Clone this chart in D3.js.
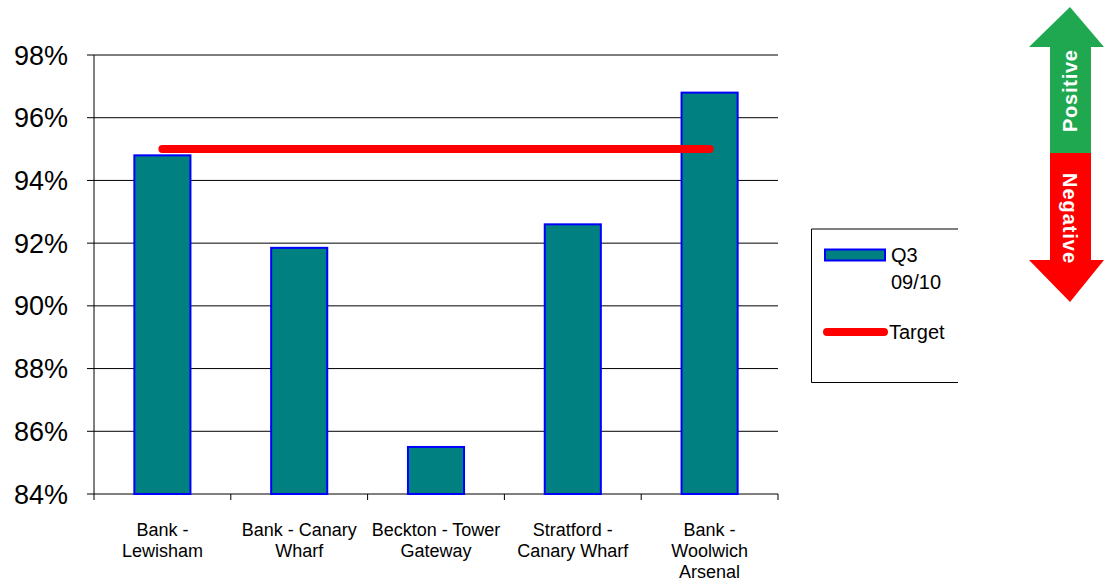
<!DOCTYPE html>
<html>
<head>
<meta charset="utf-8">
<script src="https://cdn.jsdelivr.net/npm/d3@7"></script>
<style>
  html, body { margin: 0; padding: 0; background: #ffffff; }
  svg { display: block; font-family: Arial, "Liberation Sans", sans-serif; }
</style>
</head>
<body>
<svg id="chart" width="1104" height="581"></svg>
<script>
// Route reliability, Q3 09/10
const categories = [
  ["Bank -", "Lewisham"],
  ["Bank - Canary", "Wharf"],
  ["Beckton - Tower", "Gateway"],
  ["Stratford -", "Canary Wharf"],
  ["Bank -", "Woolwich", "Arsenal"]
];
const q3Values = [94.8, 91.85, 85.5, 92.6, 96.8];
const targetValue = 95;
const yTicks = [84, 86, 88, 90, 92, 94, 96, 98];
const legendLabels = [["Q3", "09/10"], ["Target"]];

const svg = d3.select("#chart");
const plotLeft = 94, plotRight = 778, plotTop = 55, plotBottom = 494;

const keys = categories.map(c => c.join(" "));
const x = d3.scaleBand()
  .domain(keys)
  .range([plotLeft, plotRight])
  .paddingInner(0.59)
  .paddingOuter(0.295);
const y = d3.scaleLinear().domain([84, 98]).range([plotBottom, plotTop]);

// horizontal gridlines with the small outward tick
svg.append("g").selectAll("line")
  .data(yTicks)
  .join("line")
  .attr("x1", plotLeft - 7).attr("x2", plotRight)
  .attr("y1", d => y(d)).attr("y2", d => y(d))
  .attr("stroke", "#000").attr("stroke-width", 1);

// y tick labels
svg.append("g").selectAll("text")
  .data(yTicks)
  .join("text")
  .attr("x", 68).attr("y", d => y(d) + 9.5)
  .attr("text-anchor", "end")
  .attr("font-size", 27)
  .attr("fill", "#000")
  .text(d => d + "%");

// y axis line
svg.append("line")
  .attr("x1", plotLeft).attr("x2", plotLeft)
  .attr("y1", plotTop).attr("y2", plotBottom + 6)
  .attr("stroke", "#000");

// x axis ticks at category boundaries
const boundaries = keys.map(k => x(k) + x.bandwidth() + x.step() * x.paddingInner() / 2);
svg.append("g").selectAll("line")
  .data(boundaries)
  .join("line")
  .attr("x1", d => d).attr("x2", d => d)
  .attr("y1", plotBottom).attr("y2", plotBottom + 6)
  .attr("stroke", "#000");

// bars
svg.append("g").selectAll("rect")
  .data(q3Values)
  .join("rect")
  .attr("x", (d, i) => x(keys[i]))
  .attr("width", x.bandwidth())
  .attr("y", d => y(d))
  .attr("height", d => y(84) - y(d))
  .attr("fill", "#008080")
  .attr("stroke", "#0000ff")
  .attr("stroke-width", 2);

// target line across bar centres
svg.append("line")
  .attr("x1", x(keys[0]) + x.bandwidth() / 2)
  .attr("x2", x(keys[keys.length - 1]) + x.bandwidth() / 2)
  .attr("y1", y(targetValue)).attr("y2", y(targetValue))
  .attr("stroke", "#ff0000")
  .attr("stroke-width", 8)
  .attr("stroke-linecap", "round");

// category labels
const labels = svg.append("g").selectAll("text")
  .data(categories)
  .join("text")
  .attr("text-anchor", "middle")
  .attr("font-size", 18)
  .attr("fill", "#000");
labels.each(function(lines, i) {
  const cx = x(keys[i]) + x.bandwidth() / 2;
  d3.select(this).selectAll("tspan")
    .data(lines)
    .join("tspan")
    .attr("x", cx)
    .attr("y", (d, j) => 536 + j * 21)
    .text(d => d);
});

// legend
const lg = svg.append("g");
lg.append("path")
  .attr("d", "M958,229H811.5V382.5H958")
  .attr("fill", "none").attr("stroke", "#000");
lg.append("rect")
  .attr("x", 825).attr("y", 249.5).attr("width", 60).attr("height", 11)
  .attr("fill", "#008080").attr("stroke", "#0000ff").attr("stroke-width", 2);
lg.append("text")
  .attr("x", 891).attr("font-size", 20).attr("fill", "#000")
  .selectAll("tspan").data(legendLabels[0]).join("tspan")
  .attr("x", 891).attr("y", (d, j) => 262 + j * 27).text(d => d);
lg.append("line")
  .attr("x1", 827).attr("x2", 884).attr("y1", 332).attr("y2", 332)
  .attr("stroke", "#ff0000").attr("stroke-width", 8).attr("stroke-linecap", "round");
lg.append("text")
  .attr("x", 889).attr("y", 339).attr("font-size", 20).attr("fill", "#000")
  .text(legendLabels[1][0]);

// positive / negative direction arrow
const ag = svg.append("g");
ag.append("path")
  .attr("d", "M1070,7L1104,47H1091V153H1050V47H1029Z")
  .attr("fill", "#1fa84f");
ag.append("path")
  .attr("d", "M1050,153H1091V260H1104L1070,302L1029,260H1050Z")
  .attr("fill", "#ff0000");
ag.append("text")
  .attr("transform", "translate(1076.5,91) rotate(-90)")
  .attr("text-anchor", "middle")
  .attr("font-size", 20).attr("font-weight", "bold").attr("fill", "#fff")
  .attr("textLength", 82).attr("lengthAdjust", "spacing")
  .text("Positive");
ag.append("text")
  .attr("transform", "translate(1062.5,218) rotate(90)")
  .attr("text-anchor", "middle")
  .attr("font-size", 20).attr("font-weight", "bold").attr("fill", "#fff")
  .attr("textLength", 90).attr("lengthAdjust", "spacing")
  .text("Negative");
</script>
</body>
</html>
